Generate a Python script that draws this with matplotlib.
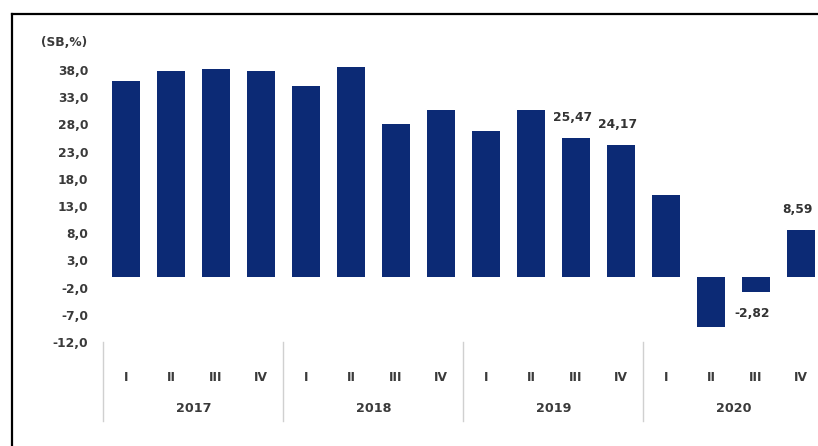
import matplotlib
matplotlib.use("Agg")
import matplotlib.pyplot as plt
from matplotlib.lines import Line2D
import matplotlib.transforms as mtransforms

years = ["2017", "2018", "2019", "2020"]
quarters = ["I", "II", "III", "IV"]
values = [36.0, 37.8, 38.1, 37.8,
          35.0, 38.5, 28.0, 30.7,
          26.7, 30.7, 25.47, 24.17,
          15.0, -9.2, -2.82, 8.59]
labeled = {10: "25,47", 11: "24,17", 14: "-2,82", 15: "8,59"}
yticks = [-12, -7, -2, 3, 8, 13, 18, 23, 28, 33, 38]

W, H = 818, 446
plt.rcParams['font.family'] = ['DejaVu Sans']
fig = plt.figure(figsize=(W / 100, H / 100), dpi=100)

txt_color = '#3a3a3a'
fs = 8.8

ax = fig.add_axes([103.5 / W, (H - 342) / H, 720 / W, 272 / H])
bar_color = '#0c2a75'
x = list(range(len(values)))
ax.bar(x, values, width=0.62, color=bar_color, clip_on=False)
ax.set_xlim(-0.5, 15.5)
ax.set_ylim(-12, 38)
for s in ax.spines.values():
    s.set_visible(False)
ax.set_yticks(yticks)
ax.set_yticklabels([f"{v},0" for v in yticks], fontsize=fs, fontweight='bold', color=txt_color)
ax.tick_params(axis='y', length=0, pad=11)
ax.set_xticks([])

trans = mtransforms.blended_transform_factory(ax.transData, ax.transAxes)
for i in range(len(values)):
    ax.text(i, -0.132, quarters[i % 4], transform=trans, ha='center', va='center',
            fontsize=fs, fontweight='bold', color=txt_color)
for j, yr in enumerate(years):
    ax.text(j * 4 + 1.5, -0.243, yr, transform=trans, ha='center', va='center',
            fontsize=fs + 0.4, fontweight='bold', color=txt_color)
for b in [-0.5, 3.5, 7.5, 11.5, 15.5]:
    ax.add_line(Line2D([b, b], [0, -0.29], transform=trans, color='#d0d0d0',
                       lw=1.0, clip_on=False))

for i, txt in labeled.items():
    v = values[i]
    off = 15 if v >= 0 else -15.5
    ax.annotate(txt, (i, v), xytext=(-2.5, off), textcoords='offset points',
                ha='center', va='center', fontsize=fs, fontweight='bold', color='#333333')

fig.text(64 / W, 1 - 43 / H, "(SB,%)", ha='center', va='center',
         fontsize=fs, fontweight='bold', color=txt_color)

fig.add_artist(Line2D([12 / W, 12 / W], [0, 1 - 14 / H], transform=fig.transFigure,
                      color='black', lw=1.6))
fig.add_artist(Line2D([12 / W, 1], [1 - 14 / H, 1 - 14 / H], transform=fig.transFigure,
                      color='black', lw=1.6))

fig.savefig("out.png", dpi=100)
